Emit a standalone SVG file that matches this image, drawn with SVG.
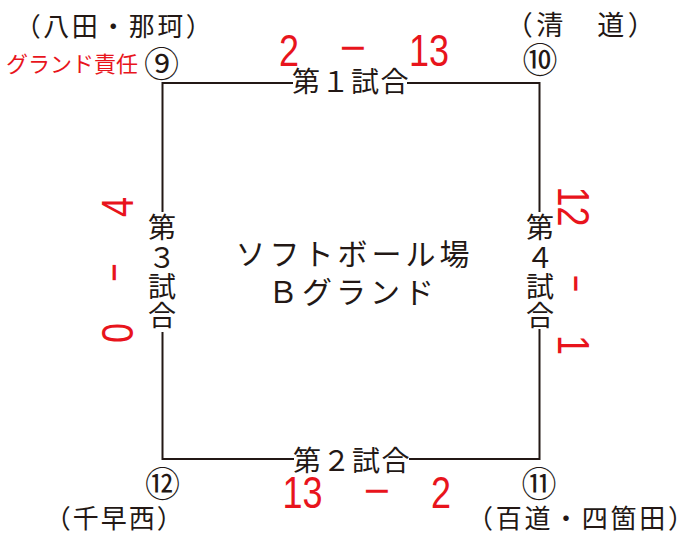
<svg xmlns="http://www.w3.org/2000/svg" width="684" height="533" viewBox="0 0 684 533">
<style>
.jp{font-family:"Noto Sans CJK JP","Noto Sans CJK SC",sans-serif;fill:#231815;}
.red{fill:#e8141c;}
.sc{font-family:"Liberation Sans",Arial,sans-serif;font-size:45px;fill:#e8141c;}
.lbl{font-size:28px;}
.team{font-size:26px;letter-spacing:2.5px;}
.num{font-size:35px;}
.edge{fill:none;stroke:#231815;stroke-width:2;}
</style>
<rect width="684" height="533" fill="#ffffff"/>
<g id="connectors">
<path class="edge" d="M293,83 H162.5 V212 M162.5,332 V459 H294 M409,459 H539.5 V329 M539.5,212 V83 H407"/>
</g>
<g id="corner-9">
<text class="jp team" x="14.75" y="35.5">（八田・那珂）</text>
<text class="jp red" x="6" y="71.5" font-size="22">グランド責任</text>
<text class="jp num" x="161.5" y="77.3" text-anchor="middle">⑨</text>
</g>
<g id="corner-10">
<text class="jp team" x="505.75" y="34.5" style="font-size:27px;letter-spacing:3.5px">（清　道）</text>
<text class="jp num" x="540" y="72.8" text-anchor="middle">⑩</text>
</g>
<g id="corner-12">
<text class="jp num" x="162.5" y="496.8" text-anchor="middle">⑫</text>
<text class="jp team" x="44.7" y="527.5" style="letter-spacing:2px">（千早西）</text>
</g>
<g id="corner-11">
<text class="jp num" x="539" y="496.8" text-anchor="middle">⑪</text>
<text class="jp team" x="467" y="527.5" style="letter-spacing:2.7px">（百道・四箇田）</text>
</g>
<g id="center">
<text class="jp" x="235.5" y="265" font-size="30" letter-spacing="4">ソフトボール場</text>
<text class="jp" x="268" y="303" font-size="30" letter-spacing="4">Ｂグランド</text>
</g>
<g id="match-1">
<text class="jp lbl" x="292" y="92" letter-spacing="1.5">第１試合</text>
<text class="sc" transform="translate(289,66) scale(0.8,1)" text-anchor="middle">2</text>
<text class="sc" x="353" y="63" text-anchor="middle">−</text>
<text class="sc" transform="translate(429,66) scale(0.8,1)" text-anchor="middle">13</text>
</g>
<g id="match-2">
<text class="jp lbl" x="293" y="471" letter-spacing="1.5">第２試合</text>
<text class="sc" transform="translate(302.5,508) scale(0.8,1)" text-anchor="middle">13</text>
<text class="sc" x="377" y="506" text-anchor="middle">−</text>
<text class="sc" transform="translate(441,508) scale(0.8,1)" text-anchor="middle">2</text>
</g>
<g id="match-3">
<text class="jp lbl" x="162" y="238" text-anchor="middle">第</text>
<text class="jp lbl" x="162" y="267.5" text-anchor="middle">３</text>
<text class="jp lbl" x="162" y="297" text-anchor="middle">試</text>
<text class="jp lbl" x="162" y="326" text-anchor="middle">合</text>
<text class="sc" transform="translate(132.5,207) rotate(-90) scale(0.8,1)" text-anchor="middle">4</text>
<text class="sc" transform="translate(129,272.5) rotate(-90) scale(0.7,1)" text-anchor="middle">−</text>
<text class="sc" transform="translate(132.5,333) rotate(-90) scale(0.8,1)" text-anchor="middle">0</text>
</g>
<g id="match-4">
<text class="jp lbl" x="540" y="238" text-anchor="middle">第</text>
<text class="jp lbl" x="540" y="267.5" text-anchor="middle">４</text>
<text class="jp lbl" x="540" y="297" text-anchor="middle">試</text>
<text class="jp lbl" x="540" y="326" text-anchor="middle">合</text>
<text class="sc" transform="translate(558,206.5) rotate(90) scale(0.8,1)" text-anchor="middle">12</text>
<text class="sc" transform="translate(561,283.5) rotate(90) scale(0.65,1)" text-anchor="middle">−</text>
<text class="sc" transform="translate(558,345) rotate(90) scale(0.8,1)" text-anchor="middle">1</text>
</g>
</svg>
